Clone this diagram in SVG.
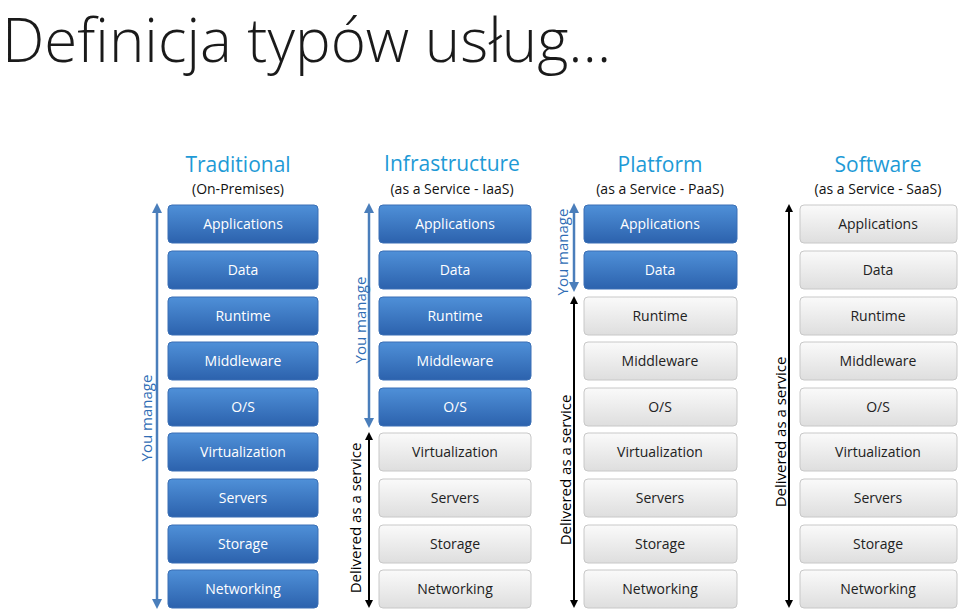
<svg xmlns="http://www.w3.org/2000/svg" width="960" height="609" viewBox="0 0 960 609">
<defs>
<linearGradient id="gb" x1="0" y1="0" x2="0" y2="1"><stop offset="0" stop-color="#4f90d8"/><stop offset="1" stop-color="#2c62ad"/></linearGradient>
<linearGradient id="gg" x1="0" y1="0" x2="0" y2="1"><stop offset="0" stop-color="#fafafa"/><stop offset="1" stop-color="#dedede"/></linearGradient>
<marker id="ab" viewBox="0 0 10 10" refX="5" refY="5" markerWidth="4" markerHeight="4" orient="auto-start-reverse"><path d="M0,0L10,5L0,10z" fill="#4a7ebb"/></marker>
<marker id="ak" viewBox="0 0 10 10" refX="5" refY="5" markerWidth="4" markerHeight="4" orient="auto-start-reverse"><path d="M0,0L10,5L0,10z" fill="#000"/></marker>
</defs>
<style>
text{font-family:"Open Sans","Noto Sans",sans-serif}
.b rect{fill:url(#gb);stroke:#3a6fb5;stroke-width:1}
.g rect{fill:url(#gg);stroke:#c8c8c8;stroke-width:1}
.b text{fill:#fff;font-size:14px;text-anchor:middle}
.g text{fill:#222;font-size:14px;text-anchor:middle}
.h{fill:#1e9ad6;font-size:21px;text-anchor:middle}
.s{fill:#111;font-size:14px;text-anchor:middle}
.lb{fill:#2f6db5;font-size:15px;text-anchor:middle}
.lk{fill:#000;font-size:15px;text-anchor:middle}
</style>
<text x="2" y="62" font-size="60" fill="#1a1a1a" style="font-family:'Open Sans',sans-serif;font-weight:300">Definicja typów usług…</text>
<g id="headers">
<text class="h" x="238" y="172">Traditional</text><text class="s" x="238" y="194">(On-Premises)</text>
<text class="h" x="452" y="171">Infrastructure</text><text class="s" x="452" y="194">(as a Service - IaaS)</text>
<text class="h" x="660" y="172">Platform</text><text class="s" x="660" y="194">(as a Service - PaaS)</text>
<text class="h" x="878" y="172">Software</text><text class="s" x="878" y="194">(as a Service - SaaS)</text>
</g>
<g id="traditional">
<g class="b"><rect x="168" y="205" width="150" height="38" rx="4"/><text x="243" y="229">Applications</text></g>
<g class="b"><rect x="168" y="251" width="150" height="38" rx="4"/><text x="243" y="275">Data</text></g>
<g class="b"><rect x="168" y="297" width="150" height="38" rx="4"/><text x="243" y="321">Runtime</text></g>
<g class="b"><rect x="168" y="342" width="150" height="38" rx="4"/><text x="243" y="366">Middleware</text></g>
<g class="b"><rect x="168" y="388" width="150" height="38" rx="4"/><text x="243" y="412">O/S</text></g>
<g class="b"><rect x="168" y="433" width="150" height="38" rx="4"/><text x="243" y="457">Virtualization</text></g>
<g class="b"><rect x="168" y="479" width="150" height="38" rx="4"/><text x="243" y="503">Servers</text></g>
<g class="b"><rect x="168" y="525" width="150" height="38" rx="4"/><text x="243" y="549">Storage</text></g>
<g class="b"><rect x="168" y="570" width="150" height="38" rx="4"/><text x="243" y="594">Networking</text></g>
</g>
<g id="iaas">
<g class="b"><rect x="379" y="205" width="152" height="38" rx="4"/><text x="455" y="229">Applications</text></g>
<g class="b"><rect x="379" y="251" width="152" height="38" rx="4"/><text x="455" y="275">Data</text></g>
<g class="b"><rect x="379" y="297" width="152" height="38" rx="4"/><text x="455" y="321">Runtime</text></g>
<g class="b"><rect x="379" y="342" width="152" height="38" rx="4"/><text x="455" y="366">Middleware</text></g>
<g class="b"><rect x="379" y="388" width="152" height="38" rx="4"/><text x="455" y="412">O/S</text></g>
<g class="g"><rect x="379" y="433" width="152" height="38" rx="4"/><text x="455" y="457">Virtualization</text></g>
<g class="g"><rect x="379" y="479" width="152" height="38" rx="4"/><text x="455" y="503">Servers</text></g>
<g class="g"><rect x="379" y="525" width="152" height="38" rx="4"/><text x="455" y="549">Storage</text></g>
<g class="g"><rect x="379" y="570" width="152" height="38" rx="4"/><text x="455" y="594">Networking</text></g>
</g>
<g id="paas">
<g class="b"><rect x="584" y="205" width="153" height="38" rx="4"/><text x="660" y="229">Applications</text></g>
<g class="b"><rect x="584" y="251" width="153" height="38" rx="4"/><text x="660" y="275">Data</text></g>
<g class="g"><rect x="584" y="297" width="153" height="38" rx="4"/><text x="660" y="321">Runtime</text></g>
<g class="g"><rect x="584" y="342" width="153" height="38" rx="4"/><text x="660" y="366">Middleware</text></g>
<g class="g"><rect x="584" y="388" width="153" height="38" rx="4"/><text x="660" y="412">O/S</text></g>
<g class="g"><rect x="584" y="433" width="153" height="38" rx="4"/><text x="660" y="457">Virtualization</text></g>
<g class="g"><rect x="584" y="479" width="153" height="38" rx="4"/><text x="660" y="503">Servers</text></g>
<g class="g"><rect x="584" y="525" width="153" height="38" rx="4"/><text x="660" y="549">Storage</text></g>
<g class="g"><rect x="584" y="570" width="153" height="38" rx="4"/><text x="660" y="594">Networking</text></g>
</g>
<g id="saas">
<g class="g"><rect x="800" y="205" width="157" height="38" rx="4"/><text x="878" y="229">Applications</text></g>
<g class="g"><rect x="800" y="251" width="157" height="38" rx="4"/><text x="878" y="275">Data</text></g>
<g class="g"><rect x="800" y="297" width="157" height="38" rx="4"/><text x="878" y="321">Runtime</text></g>
<g class="g"><rect x="800" y="342" width="157" height="38" rx="4"/><text x="878" y="366">Middleware</text></g>
<g class="g"><rect x="800" y="388" width="157" height="38" rx="4"/><text x="878" y="412">O/S</text></g>
<g class="g"><rect x="800" y="433" width="157" height="38" rx="4"/><text x="878" y="457">Virtualization</text></g>
<g class="g"><rect x="800" y="479" width="157" height="38" rx="4"/><text x="878" y="503">Servers</text></g>
<g class="g"><rect x="800" y="525" width="157" height="38" rx="4"/><text x="878" y="549">Storage</text></g>
<g class="g"><rect x="800" y="570" width="157" height="38" rx="4"/><text x="878" y="594">Networking</text></g>
</g>
<g id="connectors">
<line x1="157" y1="208" x2="157" y2="604" stroke="#4a7ebb" stroke-width="2.5" marker-start="url(#ab)" marker-end="url(#ab)"/>
<line x1="369" y1="208" x2="369" y2="423" stroke="#4a7ebb" stroke-width="2.5" marker-start="url(#ab)" marker-end="url(#ab)"/>
<line x1="369" y1="436" x2="369" y2="604" stroke="#000" stroke-width="2" marker-start="url(#ak)" marker-end="url(#ak)"/>
<line x1="574" y1="208" x2="574" y2="287" stroke="#4a7ebb" stroke-width="2.5" marker-start="url(#ab)" marker-end="url(#ab)"/>
<line x1="574" y1="300" x2="574" y2="604" stroke="#000" stroke-width="2" marker-start="url(#ak)" marker-end="url(#ak)"/>
<line x1="789" y1="208" x2="789" y2="604" stroke="#000" stroke-width="2" marker-start="url(#ak)" marker-end="url(#ak)"/>
<text class="lb" transform="translate(152,418) rotate(-90)">You manage</text>
<text class="lb" transform="translate(366,320) rotate(-90)">You manage</text>
<text class="lk" transform="translate(361,518) rotate(-90)">Delivered as a service</text>
<text class="lb" transform="translate(568,252) rotate(-90)">You manage</text>
<text class="lk" transform="translate(571,470) rotate(-90)">Delivered as a service</text>
<text class="lk" transform="translate(786,432) rotate(-90)">Delivered as a service</text>
</g>
</svg>
